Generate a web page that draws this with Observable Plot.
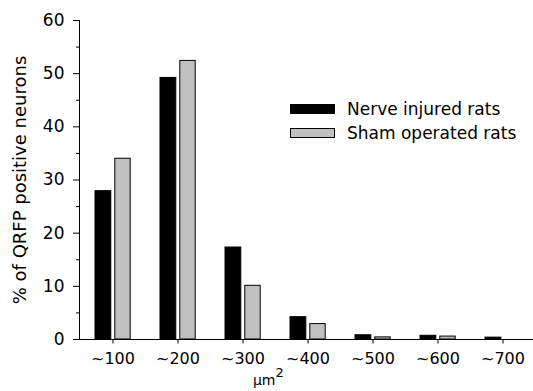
<!DOCTYPE html>
<html><head><meta charset="utf-8">
<script src="https://cdn.jsdelivr.net/npm/d3@7"></script>
<script src="https://cdn.jsdelivr.net/npm/@observablehq/plot@0.6"></script>
<style>
body{margin:0;background:#fff;overflow:hidden;}
#wrap{position:relative;width:533px;height:391px;font-family:"DejaVu Sans",sans-serif;}
#legend{position:absolute;left:290px;top:97px;font-size:17px;color:#000;}
#legend .row{display:flex;align-items:center;height:24px;line-height:24px;}
#legend .sw{width:43px;height:8px;border:1px solid #000;margin-right:12px;}
</style></head><body><div id="wrap"><div id="legend"></div></div>
<script>
const categories = ["~100","~200","~300","~400","~500","~600","~700"];
const series = ["Nerve injured rats","Sham operated rats"];
const nerveValues = [27.9, 49.2, 17.3, 4.2, 0.8, 0.7, 0.35];
const shamValues = [34.0, 52.4, 10.1, 2.9, 0.4, 0.55, 0];
const yTicks = [0, 10, 20, 30, 40, 50, 60];
const yMinorTicks = [5, 15, 25, 35, 45, 55];
const colors = ["#000000", "#c0c0c0"];
const yLabel = "% of QRFP positive neurons";
const xLabel = "\u03bcm";
const xLabelSup = "2";

const nerve = categories.map((c, i) => ({category: c, series: series[0], value: nerveValues[i]})).filter(d => d.value > 0);
const sham = categories.map((c, i) => ({category: c, series: series[1], value: shamValues[i]})).filter(d => d.value > 0);

const plot = Plot.plot({
  width: 533, height: 391,
  marginLeft: 79, marginRight: 0, marginTop: 20, marginBottom: 52,
  style: {fontFamily: "DejaVu Sans, sans-serif", fontSize: "16px", background: "white", color: "black", overflow: "visible"},
  x: {type: "band", domain: categories, range: [79, 536], padding: 0},
  y: {domain: [0, 60]},
  marks: [
    Plot.barY(nerve, {x: "category", y: "value", fill: colors[0], stroke: "black", strokeWidth: 1, insetLeft: 24.6, insetRight: 24.6, dx: -9.6}),
    Plot.barY(sham, {x: "category", y: "value", fill: colors[1], stroke: "black", strokeWidth: 1, insetLeft: 24.8, insetRight: 24.8, dx: 10}),
    Plot.frame({anchor: "left", stroke: "black"}),
    Plot.ruleY([0], {stroke: "black"}),
    Plot.axisY({ticks: yTicks, tickSize: 6, tickPadding: 9, fontSize: 17, label: null}),
    Plot.axisY({ticks: yMinorTicks, tickSize: 3, tickFormat: () => "", label: null}),
    Plot.axisY({ticks: [], label: yLabel, labelAnchor: "center", labelArrow: "none", labelOffset: 66, fontSize: 18}),
    Plot.axisX({tickSize: 4.5, tickPadding: 9, fontSize: 16, label: null}),
    Plot.text([xLabel], {frameAnchor: "bottom-left", dx: 196, dy: 45.5, textAnchor: "end", fontSize: 14}),
    Plot.text([xLabelSup], {frameAnchor: "bottom-left", dx: 196, dy: 37, textAnchor: "start", fontSize: 13})
  ]
});
document.getElementById("wrap").prepend(plot);

const legend = d3.select("#legend");
series.forEach((s, i) => {
  const row = legend.append("div").attr("class", "row");
  row.append("div").attr("class", "sw").style("background", colors[i]);
  row.append("span").text(s);
});
</script></body></html>
